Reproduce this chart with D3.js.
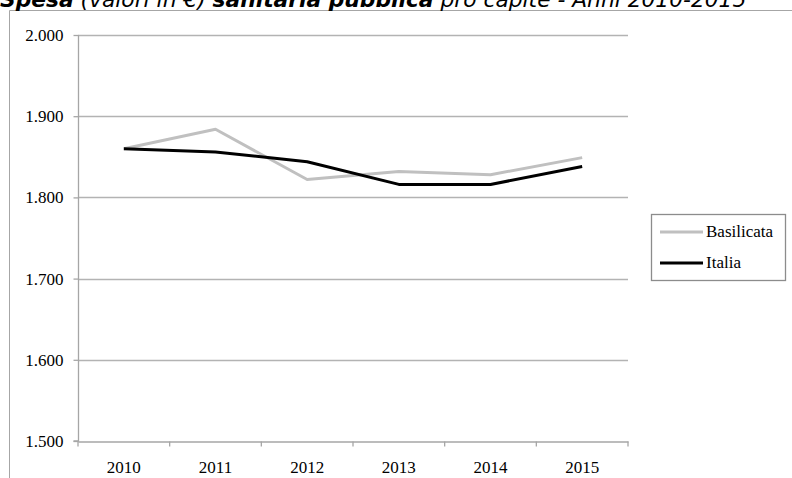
<!DOCTYPE html>
<html><head><meta charset="utf-8">
<script src="https://cdn.jsdelivr.net/npm/d3@7"></script>
<style>body{margin:0;background:#fff}svg{display:block}</style>
</head><body>
<svg id="c" width="792" height="478"></svg>
<script>
const years = ["2010","2011","2012","2013","2014","2015"];
const basilicata = [1860, 1884, 1822, 1832, 1828, 1849];
const italia = [1860, 1856, 1844, 1816, 1816, 1838];
const yTicks = [1500, 1600, 1700, 1800, 1900, 2000];
const seriesNames = ["Basilicata", "Italia"];
const seriesColors = ["#c0c0c0", "#000000"];

const svg = d3.select("#c");
const m = {l:78, r:628, t:35, b:441};
const x = d3.scaleBand().domain(years).range([m.l, m.r]);
const y = d3.scaleLinear().domain([1500, 2000]).range([m.b, m.t]);
const fmt = v => d3.format(",")(v).replace(",", ".");
const serif = "'Liberation Serif', 'Times New Roman', serif";

// chart frame
svg.append("path").attr("d", "M9.5,478V10.5H792").attr("fill","none").attr("stroke","#a6a6a6").attr("stroke-width",1);

// title
const title = svg.append("text").attr("x", 0).attr("y", 6.5)
  .style("font-family", "'DejaVu Sans', Verdana, sans-serif").style("font-size", "16px").style("font-style","italic");
title.append("tspan").attr("font-weight","bold").text("Spesa");
title.append("tspan").text(" (valori in €) ");
title.append("tspan").attr("font-weight","bold").text("sanitaria pubblica");
title.append("tspan").text(" pro capite - Anni 2010-2015");
const tw = title.node().getComputedTextLength();
title.style("font-size", (16 * 747 / tw) + "px");

// gridlines
svg.append("g").selectAll("line").data(yTicks.slice(1)).join("line")
  .attr("x1", m.l).attr("x2", m.r).attr("y1", d => Math.round(y(d)) + 0.5).attr("y2", d => Math.round(y(d)) + 0.5)
  .attr("stroke", "#b3b3b3").attr("stroke-width", 1.3);

// y axis
const ya = svg.append("g").attr("transform", `translate(${m.l + 0.5},0)`)
  .call(d3.axisLeft(y).tickValues(yTicks).tickFormat(fmt).tickSize(5).tickPadding(10));
// x axis
const xa = svg.append("g").attr("transform", `translate(0,${m.b + 0.5})`)
  .call(d3.axisBottom(x).tickSize(0).tickPadding(19));
xa.selectAll(".tick line").remove();
xa.append("g").selectAll("line").data(years.map(d => x(d)).concat([m.r])).join("line")
  .attr("x1", d => d).attr("x2", d => d).attr("y1", 0).attr("y2", 5).attr("stroke", "#a6a6a6").attr("stroke-width", 1.3);
[ya, xa].forEach(a => {
  a.select(".domain").attr("stroke", "#a6a6a6").attr("stroke-width", 1.3);
  a.selectAll(".tick line").attr("stroke", "#a6a6a6").attr("stroke-width", 1.3);
  a.selectAll("text").style("font-family", serif).style("font-size", "17px").attr("fill", "#000");
});
ya.select(".domain").attr("d", `M-5,${m.b}H0V${m.t}`);

// lines
const line = d3.line().x((d, i) => x(years[i]) + x.bandwidth() / 2).y(d => y(d));
[basilicata, italia].forEach((s, i) => {
  svg.append("path").datum(s).attr("d", line).attr("fill", "none")
    .attr("stroke", seriesColors[i]).attr("stroke-width", 3).attr("stroke-linejoin", "round");
});

// legend
const lg = svg.append("g");
lg.append("rect").attr("x", 651.5).attr("y", 214.5).attr("width", 134).attr("height", 66)
  .attr("fill", "#fff").attr("stroke", "#8c8c8c").attr("stroke-width", 1.3);
seriesNames.forEach((n, i) => {
  const yy = 232 + i * 31;
  lg.append("line").attr("x1", 660).attr("x2", 703).attr("y1", yy).attr("y2", yy)
    .attr("stroke", seriesColors[i]).attr("stroke-width", 3);
  lg.append("text").attr("x", 706).attr("y", yy + 5).text(n)
    .style("font-family", serif).style("font-size", "17px");
});
</script>
</body></html>
